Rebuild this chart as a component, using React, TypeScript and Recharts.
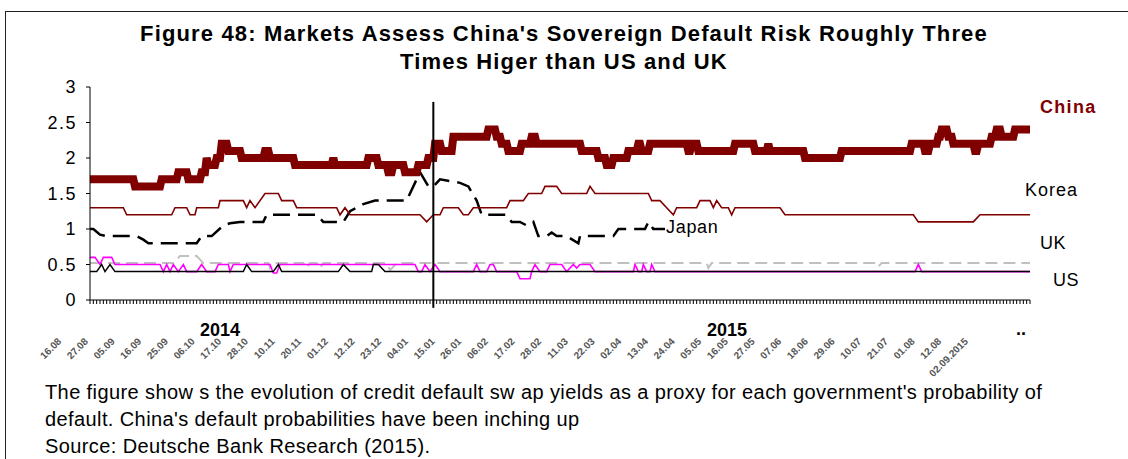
import React from 'react';
import { LineChart, Line, XAxis, YAxis, ReferenceLine } from 'recharts';

type P = { x: number; y: number };
const pts = (arr: number[][]): P[] => arr.map(([x, y]) => ({ x, y }));

// x = trading-day index (0..282), y = CDS yield (%)
const chinaData = pts([
  [0, 1.7], [13, 1.7], [13.5, 1.6], [21, 1.6], [21.5, 1.7], [26, 1.7], [26.5, 1.8], [29, 1.8], [29.5, 1.7],
  [33, 1.7], [33.5, 1.8], [34.5, 1.8], [35, 2.0], [35.5, 1.9], [37.5, 1.9], [38, 2.0], [39, 2.0], [39.5, 2.2],
  [41, 2.2], [41.5, 2.1], [45, 2.1], [45.5, 2.0], [52, 2.0], [52.5, 2.1], [53.5, 2.1], [54, 2.0], [61, 2.0],
  [61.5, 1.9], [72.5, 1.9], [73, 2.0], [73.5, 1.9], [83, 1.9], [83.5, 2.0], [86, 2.0], [86.5, 1.9], [89, 1.9],
  [89.5, 1.8], [90.5, 1.8], [91, 1.9], [94, 1.9], [94.5, 1.8], [98, 1.8], [98.5, 1.9], [101, 1.9], [101.5, 2.0],
  [103, 2.0], [103.5, 2.2], [105, 2.2], [105.5, 2.1], [108.5, 2.1], [109, 2.3], [119, 2.3], [119.5, 2.4],
  [121.5, 2.4], [122, 2.3], [123, 2.3], [123.5, 2.2], [125, 2.2], [125.5, 2.1], [129, 2.1], [129.5, 2.2],
  [132, 2.2], [132.5, 2.3], [133.5, 2.3], [134, 2.2], [147, 2.2], [147.5, 2.1], [152, 2.1], [152.5, 2.0],
  [154.5, 2.0], [155, 1.9], [156.5, 1.9], [157, 2.0], [161, 2.0], [161.5, 2.1], [164, 2.1], [164.5, 2.2],
  [165, 2.2], [165.5, 2.1], [167.5, 2.1], [168, 2.2], [179, 2.2], [179.5, 2.1], [180, 2.1], [180.5, 2.2],
  [182, 2.2], [182.5, 2.1], [193, 2.1], [193.5, 2.2], [199, 2.2], [199.5, 2.1], [203, 2.1], [203.5, 2.2],
  [204, 2.1], [214, 2.1], [214.5, 2.0], [225, 2.0], [225.5, 2.1], [246, 2.1], [246.5, 2.2], [250, 2.2],
  [250.5, 2.1], [251.5, 2.1], [252, 2.2], [254, 2.2], [254.5, 2.3], [255, 2.3], [255.5, 2.4], [257, 2.4],
  [257.5, 2.3], [258.5, 2.3], [259, 2.2], [265, 2.2], [265.5, 2.1], [266, 2.1], [266.5, 2.2], [270, 2.2],
  [270.5, 2.3], [271.5, 2.3], [272, 2.4], [273, 2.4], [273.5, 2.3], [277, 2.3], [277.5, 2.4], [282, 2.4],
]);

const koreaData = pts([
  [0, 1.3], [10, 1.3], [11, 1.2], [24.5, 1.2], [25.5, 1.3], [29, 1.3], [30, 1.2], [31.5, 1.2], [32, 1.3],
  [38.5, 1.3], [39, 1.4], [46, 1.4], [47, 1.3], [48, 1.4], [49.5, 1.3], [52.5, 1.5], [56.5, 1.5], [57.5, 1.4],
  [61, 1.4], [62, 1.3], [74, 1.3], [75, 1.2], [76.5, 1.3], [78, 1.2], [99, 1.2], [101, 1.1], [103, 1.2],
  [105, 1.2], [106, 1.3], [110.5, 1.3], [112, 1.2], [113.5, 1.2], [115, 1.3], [125, 1.3], [126, 1.4], [130, 1.4],
  [131.5, 1.5], [135.5, 1.5], [136.5, 1.6], [140, 1.6], [141.5, 1.5], [149, 1.5], [150, 1.6], [151.5, 1.5],
  [167.5, 1.5], [168.5, 1.4], [171, 1.4], [173, 1.3], [175, 1.2], [176, 1.3], [182, 1.3], [183, 1.4], [186, 1.4],
  [187, 1.3], [188, 1.4], [189.5, 1.3], [191.5, 1.3], [192.5, 1.2], [193.5, 1.3], [207, 1.3], [208.5, 1.2],
  [247, 1.2], [248.5, 1.1], [265, 1.1], [267, 1.2], [282, 1.2],
]);

const japanData = pts([
  [0, 1.0], [1, 1.0], [3, 0.92], [5, 0.9], [14, 0.9], [16, 0.85], [17.5, 0.8], [32, 0.8], [33.5, 0.9],
  [36.5, 0.9], [40, 1.05], [42, 1.08], [45, 1.1], [52, 1.1], [53, 1.2], [68, 1.2], [70, 1.1], [76, 1.1],
  [78, 1.25], [82, 1.35], [85.5, 1.4], [95, 1.4], [99, 1.8], [101.5, 1.6], [103, 1.6], [105, 1.7], [111, 1.65],
  [113.5, 1.6], [116, 1.4], [117.5, 1.2], [125, 1.2], [126.5, 1.1], [129, 1.1], [131, 1.05], [133, 1.1],
  [134.5, 0.9], [137, 0.9], [138.5, 0.95], [140, 0.9], [143, 0.9], [146.5, 0.8], [147, 0.9], [157, 0.9],
  [158.5, 1.0], [165, 1.0], [166.5, 1.0], [167.5, 1.1], [169, 1.0], [172.5, 1.0],
]);

const ukData = pts([
  [0, 0.52], [25, 0.52], [27, 0.62], [32, 0.62], [34, 0.52], [53.5, 0.52], [54, 0.45], [55, 0.52], [64, 0.52],
  [65, 0.45], [66, 0.52], [68, 0.52], [69, 0.45], [70, 0.52], [89, 0.52], [90, 0.42], [92, 0.52], [185, 0.52],
  [185.5, 0.45], [186.5, 0.52], [236, 0.52], [236.5, 0.47], [237.5, 0.52], [282, 0.52],
]);

const otherData = pts([
  [0, 0.6], [1.5, 0.6], [3, 0.5], [4, 0.6], [6.5, 0.6], [7.5, 0.5], [21, 0.5], [22, 0.4], [23, 0.5], [24, 0.4],
  [25, 0.5], [26.5, 0.4], [28, 0.5], [29, 0.4], [32, 0.4], [33.5, 0.5], [35, 0.4], [37.5, 0.4], [38.5, 0.5],
  [41.5, 0.5], [42, 0.4], [43, 0.5], [54, 0.5], [55, 0.38], [56, 0.38], [57, 0.5], [97.5, 0.5], [98.5, 0.4],
  [99.5, 0.4], [100.5, 0.5], [102, 0.4], [103.5, 0.5], [105, 0.4], [115, 0.4], [116, 0.5], [117, 0.4],
  [119, 0.4], [120, 0.5], [121, 0.5], [122, 0.4], [128, 0.4], [129, 0.3], [132, 0.3], [132.5, 0.4],
  [133.5, 0.5], [135, 0.4], [137, 0.4], [138, 0.5], [141.5, 0.5], [143, 0.4], [145, 0.5], [146, 0.45],
  [147, 0.5], [150, 0.5], [151.5, 0.4], [163, 0.4], [163.5, 0.5], [164.5, 0.4], [165.5, 0.4], [166, 0.5],
  [167, 0.4], [168, 0.4], [168.5, 0.5], [169.5, 0.4], [247.5, 0.4], [248.5, 0.5], [249.5, 0.4], [282, 0.4],
]);

const usData = pts([
  [0, 0.4], [2, 0.4], [3.5, 0.5], [4.5, 0.4], [6, 0.5], [7.5, 0.4], [46, 0.4], [47, 0.5], [48.5, 0.4],
  [55, 0.4], [56.5, 0.5], [57.5, 0.4], [74.5, 0.4], [76, 0.5], [78, 0.4], [84.5, 0.4], [85, 0.5], [86.5, 0.5],
  [88.5, 0.4], [282, 0.4],
]);

const dateLabels = [
  '16.08', '27.08', '05.09', '16.09', '25.09', '06.10', '17.10', '28.10', '10.11', '20.11', '01.12', '12.12',
  '23.12', '04.01', '15.01', '26.01', '06.02', '17.02', '28.02', '11.03', '22.03', '02.04', '13.04', '24.04',
  '05.05', '16.05', '27.05', '07.06', '18.06', '29.06', '10.07', '21.07', '01.08', '12.08', '02.09.2015',
];
const xTicks: number[] = [];
for (let i = 0; i <= 282; i++) xTicks.push(i);
const yTicks = [0, 0.5, 1, 1.5, 2, 2.5, 3];
const yearLabels = ['2014', '2015'];
const splitX = 103;

const FONT = "'Liberation Sans', Arial, sans-serif";

const XTick = (props: any) => {
  const { x, y, payload } = props;
  const v = payload.value;
  if (v % 8 !== 0 || v / 8 >= dateLabels.length) return <g />;
  const tx = x - 28;
  const ty = y + 36;
  return (
    <text x={tx} y={ty} textAnchor="end" transform={`rotate(-45 ${tx} ${ty})`} fontSize={10}
      fontWeight="bold" fill="#555" fontFamily={FONT}>
      {dateLabels[v / 8]}
    </text>
  );
};

const YTick = (props: any) => {
  const { y, payload } = props;
  return (
    <text x={77} y={y} dy="0.36em" textAnchor="end" fontSize={18} letterSpacing={1.5} fill="#000" fontFamily={FONT}>
      {String(payload.value)}
    </text>
  );
};

const abs = (left: number, top: number, extra: React.CSSProperties = {}): React.CSSProperties => ({
  position: 'absolute', left, top, fontFamily: FONT, whiteSpace: 'nowrap', lineHeight: 1, ...extra,
});

export default function App() {
  return (
    <div style={{ position: 'absolute', left: 0, top: 0, width: 1128, height: 459, background: '#fff', overflow: 'hidden' }}>
      <div style={{ position: 'absolute', left: 5, top: 11, right: -2, bottom: -2, borderTop: '1px solid #222', borderLeft: '1px solid #222' }} />
      <div style={{ position: 'absolute', left: 0, top: 20, width: 1128, textAlign: 'center', fontFamily: FONT, fontWeight: 'bold', fontSize: 22, letterSpacing: 1.15, lineHeight: '28px', color: '#000' }}>
        <div>Figure 48: Markets Assess China's Sovereign Default Risk Roughly Three</div>
        <div>Times Higer than US and UK</div>
      </div>
      <div style={{ position: 'absolute', left: 0, top: 0 }}>
        <LineChart width={1128} height={459} margin={{ top: 87, right: 98, bottom: 119, left: 30 }}>
          <XAxis type="number" dataKey="x" domain={[0, 282]} ticks={xTicks} interval={0} height={40}
            tickSize={4} tick={<XTick />} axisLine={{ stroke: '#000' }} tickLine={{ stroke: '#000' }} allowDataOverflow />
          <YAxis type="number" domain={[0, 3]} ticks={yTicks} width={60} tickSize={4}
            axisLine={{ stroke: '#000' }} tickLine={{ stroke: '#000' }} tick={<YTick />} />
          <Line data={ukData} dataKey="y" type="linear" stroke="#c0c0c0" strokeWidth={2} strokeDasharray="12 6" dot={false} isAnimationActive={false} />
          <Line data={otherData} dataKey="y" type="linear" stroke="#ff00ff" strokeWidth={1.6} dot={false} isAnimationActive={false} />
          <Line data={usData} dataKey="y" type="linear" stroke="#000" strokeWidth={1.5} dot={false} isAnimationActive={false} />
          <Line data={japanData} dataKey="y" type="linear" stroke="#000" strokeWidth={2.5} strokeDasharray="17 8" dot={false} isAnimationActive={false} />
          <Line data={koreaData} dataKey="y" type="linear" stroke="#800000" strokeWidth={1.6} dot={false} isAnimationActive={false} />
          <Line data={chinaData} dataKey="y" type="linear" stroke="#800000" strokeWidth={8} dot={false} isAnimationActive={false} />
          <ReferenceLine segment={[{ x: splitX, y: 2.79 }, { x: splitX, y: -0.11 }]} stroke="#000" strokeWidth={2} ifOverflow="visible" />
        </LineChart>
      </div>
      <div style={abs(200, 321, { fontSize: 18, fontWeight: 'bold' })}>{yearLabels[0]}</div>
      <div style={abs(707, 321, { fontSize: 18, fontWeight: 'bold' })}>{yearLabels[1]}</div>
      <div style={abs(1016, 320, { fontSize: 18, fontWeight: 'bold' })}>..</div>
      <div style={abs(1040, 98, { fontSize: 18, fontWeight: 'bold', color: '#800000', letterSpacing: 1.3 })}>China</div>
      <div style={abs(1025, 181, { fontSize: 18, letterSpacing: 1 })}>Korea</div>
      <div style={abs(666, 218, { fontSize: 18, letterSpacing: 0.7 })}>Japan</div>
      <div style={abs(1040, 234, { fontSize: 18, letterSpacing: 0.5 })}>UK</div>
      <div style={abs(1053, 271, { fontSize: 18, letterSpacing: 0.5 })}>US</div>
      <div style={{ position: 'absolute', left: 45, top: 379, fontFamily: FONT, fontSize: 20, letterSpacing: 0.4, lineHeight: '27px', color: '#000', whiteSpace: 'nowrap' }}>
        <div>The figure show s the evolution of credit default sw ap yields as a proxy for each government's probability of</div>
        <div>default. China's default probabilities have been inching up</div>
        <div>Source: Deutsche Bank Research (2015).</div>
      </div>
    </div>
  );
}
